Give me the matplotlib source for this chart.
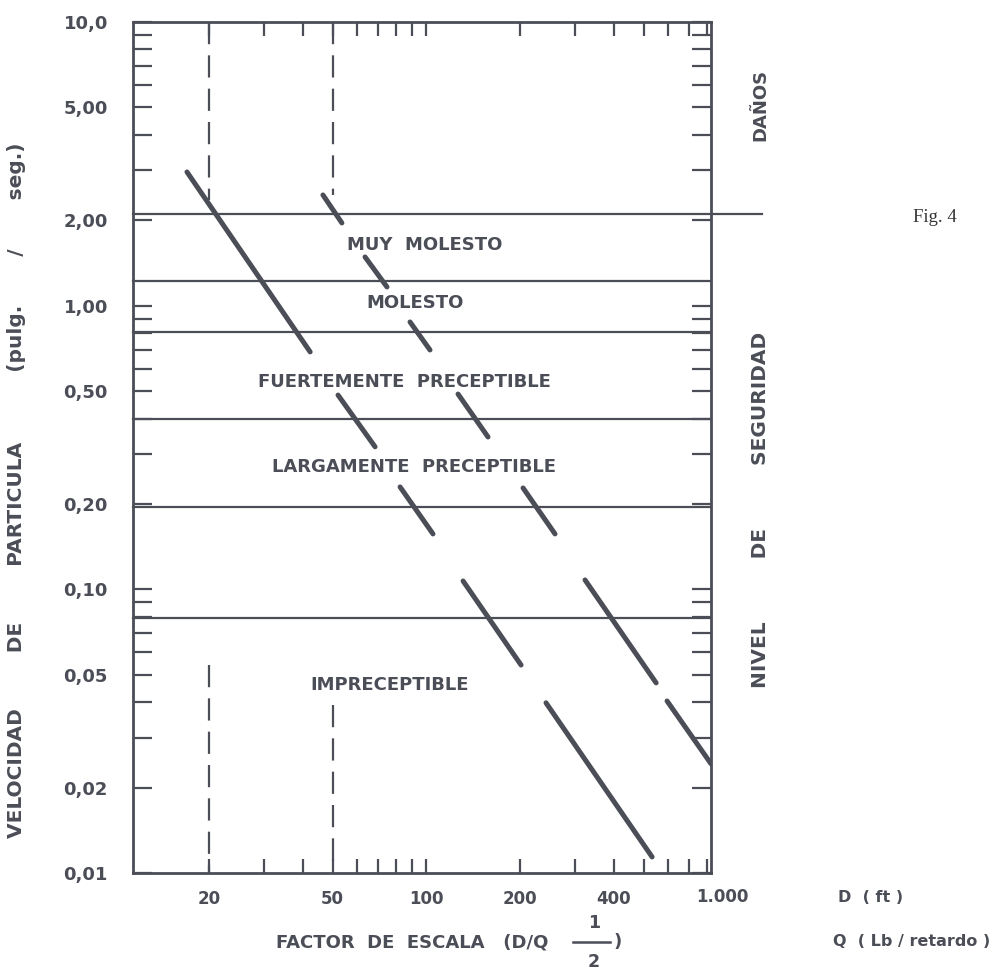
import numpy as np
import matplotlib
matplotlib.use("Agg")
import matplotlib.pyplot as plt
from matplotlib.ticker import FixedLocator, LogLocator, NullFormatter, FixedFormatter

# velocity thresholds between the zones (pulg./seg.)
zone_limits = [2.1, 1.22, 0.81, 0.40, 0.195, 0.079]
zone_names = ["MUY  MOLESTO", "MOLESTO", "FUERTEMENTE  PRECEPTIBLE",
              "LARGAMENTE  PRECEPTIBLE", "IMPRECEPTIBLE"]
zone_label_x = [99, 92, 85, 91, 76]
zone_label_y = [1.64, 1.02, 0.54, 0.27, 0.046]

# the two attenuation lines, drawn as dashes (x0, x1, v0, v1)
line1_x0 = [17.0, 52.0, 82.3, 131.2, 242.4]
line1_x1 = [42.3, 68.4, 105.0, 201.5, 531.6]
line1_v0 = [2.96, 0.484, 0.2296, 0.1070, 0.0398]
line1_v1 = [0.687, 0.318, 0.1568, 0.0541, 0.01139]

line2_x0 = [46.5, 63.5, 88.6, 126.4, 204.5, 323.6, 593.8]
line2_x1 = [53.5, 74.7, 102.7, 157.8, 259.1, 547.6, 822.7]
line2_v0 = [2.456, 1.485, 0.876, 0.488, 0.2277, 0.1079, 0.0404]
line2_v1 = [1.957, 1.164, 0.698, 0.3444, 0.1568, 0.0468, 0.02424]

# vertical reference lines at scaled distance 20 and 50
ref_x = [20, 50]
ref_top_end = [2.36, 2.46]
ref_bottom_start = [0.054, 0.039]

x_ticks = [20, 50, 100, 200, 400]
x_tick_labels = ["20", "50", "100", "200", "400"]
y_ticks = [10, 5, 2, 1, 0.5, 0.2, 0.1, 0.05, 0.02, 0.01]
y_tick_labels = ["10,0", "5,00", "2,00", "1,00", "0,50", "0,20", "0,10",
                 "0,05", "0,02", "0,01"]

ink = "#4b4d57"
W, H = 1008, 976

fig = plt.figure(figsize=(W / 100, H / 100), dpi=100)
ax = fig.add_axes([133 / W, 1 - 873 / H, (711 - 133) / W, (873 - 22) / H])
ax.set_xscale("log")
ax.set_yscale("log")
ax.set_xlim(11.4, 822)
ax.set_ylim(0.01, 10)

for s in ax.spines.values():
    s.set_linewidth(2)
    s.set_color(ink)

ax.xaxis.set_major_locator(FixedLocator(x_ticks))
ax.xaxis.set_major_formatter(FixedFormatter(x_tick_labels))
ax.xaxis.set_minor_locator(LogLocator(base=10, subs=np.arange(2, 10)))
ax.xaxis.set_minor_formatter(NullFormatter())
ax.yaxis.set_major_locator(FixedLocator(y_ticks))
ax.yaxis.set_major_formatter(FixedFormatter(y_tick_labels))
ax.yaxis.set_minor_locator(LogLocator(base=10, subs=np.arange(2, 10)))
ax.yaxis.set_minor_formatter(NullFormatter())
ax.tick_params(which="both", direction="in", top=True, right=True,
               length=10, width=1.6, color=ink)
ax.tick_params(axis="y", which="both", length=14)
ax.tick_params(axis="x", which="major", pad=12, labelsize=12, labelcolor=ink)
ax.tick_params(axis="y", which="major", pad=18, labelsize=13, labelcolor=ink)
for lab in ax.get_xticklabels() + ax.get_yticklabels():
    lab.set_fontweight("bold")

# zone boundaries
for i, v in enumerate(zone_limits):
    xmax = 1.088 if i == 0 else 1.0
    ax.axhline(v, xmin=0, xmax=xmax, color=ink, lw=1.6, clip_on=False)

for name, x, y in zip(zone_names, zone_label_x, zone_label_y):
    ax.text(x, y, name, ha="center", va="center", fontsize=13, color=ink,
            fontweight="bold")

# vertical dashed references
for x, t, b in zip(ref_x, ref_top_end, ref_bottom_start):
    ax.plot([x, x], [10, t], color=ink, lw=1.6, dashes=(10, 5))
    ax.plot([x, x], [b, 0.01], color=ink, lw=1.6, dashes=(10, 5))

for x0, x1, v0, v1 in zip(line1_x0, line1_x1, line1_v0, line1_v1):
    ax.plot([x0, x1], [v0, v1], color=ink, lw=3.6, solid_capstyle="round")
for x0, x1, v0, v1 in zip(line2_x0, line2_x1, line2_v0, line2_v1):
    ax.plot([x0, x1], [v0, v1], color=ink, lw=3.6, solid_capstyle="round")

# "1.000" label at the right end of the axis
ax.text(1.02, -0.028, "1.000", transform=ax.transAxes, ha="center", va="center",
        fontsize=12, color=ink, fontweight="bold")

ax.set_ylabel("VELOCIDAD        DE        PARTICULA          (pulg.       /       seg.)",
              fontsize=14.5, color=ink, fontweight="bold")
ax.yaxis.set_label_coords(-0.185, 0.45)

fig.text(760 / W, 1 - 105 / H, "DAÑOS", rotation=90, ha="center", va="center",
         fontsize=13, color=ink, fontweight="bold")
fig.text(760 / W, 1 - 510 / H, "NIVEL         DE         SEGURIDAD", rotation=90,
         ha="center", va="center", fontsize=14.5, color=ink, fontweight="bold")

fig.text(935 / W, 1 - 218 / H, "Fig. 4", family="Liberation Serif", fontsize=13.5,
         ha="center", va="center", color="#333333")

fig.text(548 / W, 1 - 942 / H, "FACTOR  DE  ESCALA   (D/Q", ha="right", va="center",
         fontsize=13, color=ink, fontweight="bold")
fig.text(594 / W, 1 - 923 / H, "1", ha="center", va="center", fontsize=12.5,
         color=ink, fontweight="bold")
fig.text(594 / W, 1 - 962 / H, "2", ha="center", va="center", fontsize=12.5,
         color=ink, fontweight="bold")
fig.add_artist(plt.Line2D([573 / W, 610 / W], [1 - 942 / H, 1 - 942 / H],
                          color=ink, lw=1.8))
fig.text(618 / W, 1 - 942 / H, ")", ha="center", va="center", fontsize=13,
         color=ink, fontweight="bold")

fig.text(838 / W, 1 - 897 / H, "D  ( ft )", ha="left", va="center",
         fontsize=11.5, color=ink, fontweight="bold")
fig.text(833 / W, 1 - 941 / H, "Q  ( Lb / retardo )", ha="left", va="center",
         fontsize=11.5, color=ink, fontweight="bold")

fig.savefig("out.png", dpi=100, facecolor="white")
